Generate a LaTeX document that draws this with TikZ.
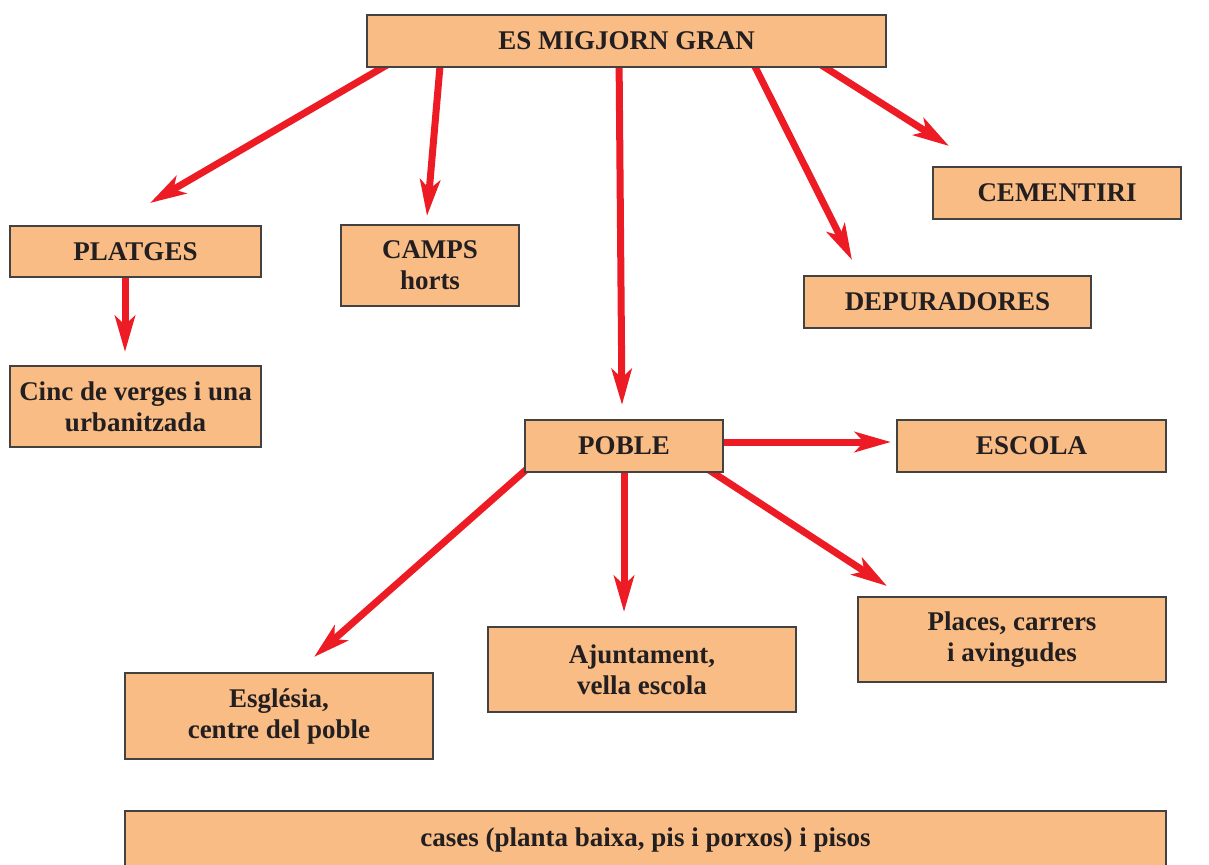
\documentclass[tikz,border=0pt]{standalone}
\usepackage{fontspec}
\setmainfont{Liberation Serif}
\usetikzlibrary{arrows.meta,calc}
\definecolor{boxfill}{HTML}{F9BC85}
\definecolor{linkred}{HTML}{ED1C24}
\definecolor{inkgray}{HTML}{231F20}
\pgfdeclarelayer{bg}
\pgfsetlayers{bg,main}
\tikzset{
  box/.style={draw=inkgray!85, line width=0.9pt, fill=boxfill, text=inkgray,
    font=\fontsize{13.5}{15.5}\selectfont\bfseries, align=center, inner sep=0pt},
  link/.style={draw=linkred, line width=3.5pt,
    -{Stealth[length=18pt,width=10pt,inset=4.5pt]}}
}
\begin{document}
\begin{tikzpicture}[x=0.5pt,y=-0.5pt]
\clip (0,0) rectangle (1209,864);
\node (top) at (626.5,41) [box, minimum width=259.5pt, minimum height=26pt] {ES MIGJORN GRAN};
\node (platges) at (135.5,251.5) [box, minimum width=125.5pt, minimum height=25.5pt] {PLATGES};
\node (camps) at (430,265.5) [box, minimum width=89pt, minimum height=40.5pt] {CAMPS\\horts};
\node (cementiri) at (1057,193) [box, minimum width=124pt, minimum height=26pt] {CEMENTIRI};
\node (depuradores) at (947.5,302) [box, minimum width=143.5pt, minimum height=26pt] {DEPURADORES};
\node (cinc) at (135.5,406.5) [box, minimum width=125.5pt, minimum height=40.5pt] {Cinc de verges i una\\urbanitzada};
\node (poble) at (624,446) [box, minimum width=99pt, minimum height=26pt] {POBLE};
\node (escola) at (1031.5,446) [box, minimum width=134.5pt, minimum height=26pt] {ESCOLA};
\node (esglesia) at (279,716) [box, minimum width=154pt, minimum height=43pt] {Església,\\centre del poble};
\node (ajuntament) at (642,669.5) [box, minimum width=154pt, minimum height=42.5pt] {Ajuntament,\\vella escola};
\node (places) at (1012,639.5) [box, minimum width=154pt, minimum height=42.5pt] {Places, carrers\\i avingudes};
\node (cases) at (645.5,839.5) [box, minimum width=520.5pt, minimum height=28.5pt] {cases (planta baixa, pis i porxos) i pisos};
% arrow tips
\coordinate (toPlatges) at (150,203);
\coordinate (toCamps) at (427,216);
\coordinate (toPoble) at (622,405);
\coordinate (toDepuradores) at (852,260);
\coordinate (toCementiri) at (949,146);
\coordinate (toCinc) at (125,352);
\coordinate (toEscola) at (891,442);
\coordinate (toEsglesia) at (314,657);
\coordinate (toAjuntament) at (624,612);
\coordinate (toPlaces) at (887,586);
\begin{pgfonlayer}{bg}
\draw[link] ($(top.south west)+(21,-3)$) -- (toPlatges);
\draw[link] ($(top.south west)+(74,-3)$) -- (toCamps);
\draw[link] ($(top.south west)+(253,-3)$) -- (toPoble);
\draw[link] ($(top.south west)+(388,-3)$) -- (toDepuradores);
\draw[link] ($(top.south west)+(455,-3)$) -- (toCementiri);
\draw[link] ($(platges.south -| toCinc)+(0,-3)$) -- (toCinc);
\draw[link] ($(poble.east |- toEscola)+(-3,0)$) -- (toEscola);
\draw[link] ($(poble.south west)+(3,-4)$) -- (toEsglesia);
\draw[link] ($(poble.south)+(0,-3)$) -- (toAjuntament);
\draw[link] ($(poble.south east)+(-15,-3)$) -- (toPlaces);
\end{pgfonlayer}
\end{tikzpicture}
\end{document}
